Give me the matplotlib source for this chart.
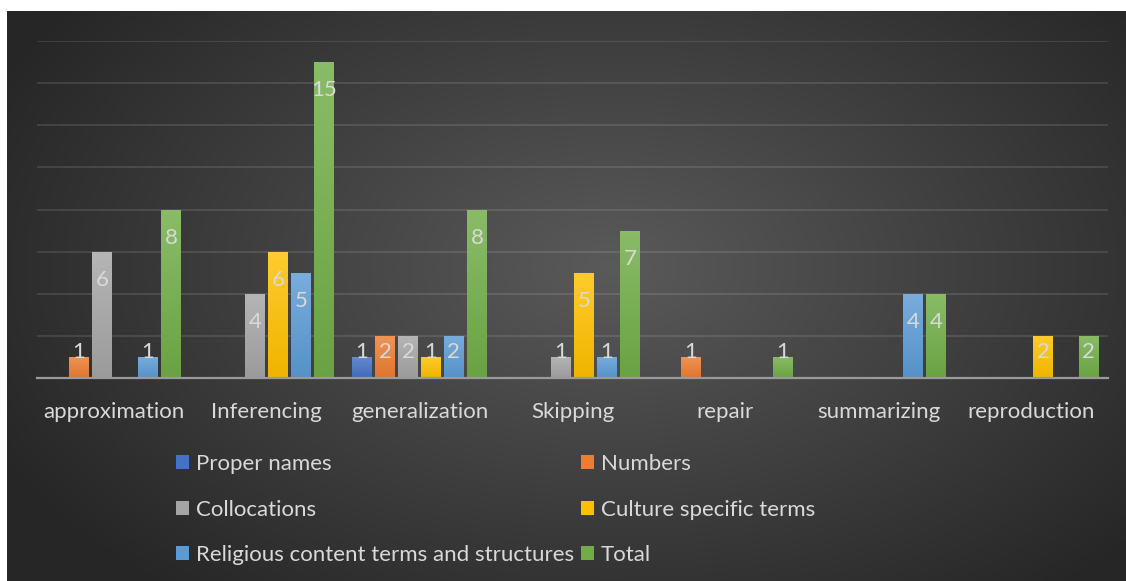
import numpy as np
import matplotlib.pyplot as plt
from matplotlib.colors import to_rgb

plt.rcParams['font.family'] = ['Lato', 'DejaVu Sans']

categories = ["approximation", "Inferencing", "generalization", "Skipping",
              "repair", "summarizing", "reproduction"]
series = ["Proper names", "Numbers", "Collocations", "Culture specific terms",
          "Religious content terms and structures", "Total"]
proper_names = [0, 0, 1, 0, 0, 0, 0]
numbers = [1, 0, 2, 0, 1, 0, 0]
collocations = [6, 4, 2, 1, 0, 0, 0]
culture_terms = [0, 6, 1, 5, 0, 0, 2]
religious_terms = [1, 5, 2, 1, 0, 4, 0]
total = [8, 15, 8, 7, 1, 4, 2]
colors = ["#4472C4", "#ED7D31", "#A5A5A5", "#FFC000", "#5B9BD5", "#70AD47"]

values = [proper_names, numbers, collocations, culture_terms, religious_terms, total]
txt = "#d9d9d9"

W, H = 1126, 581
fig = plt.figure(figsize=(W / 100, H / 100), dpi=100, facecolor="white")

# dark radial background
bg = fig.add_axes([7 / W, 0, 1 - 7 / W, 570 / H])
gx, gy = np.meshgrid(np.linspace(0, 1, 400), np.linspace(0, 1, 220))
r = np.sqrt(((gx - 0.54) / 0.62) ** 2 + ((gy - 0.45) / 0.75) ** 2)
r = np.clip(r, 0, 1)
c_in, c_out = np.array(to_rgb("#5a5a5a")), np.array(to_rgb("#262626"))
img = c_in * (1 - r[..., None]) + c_out * r[..., None]
bg.imshow(img, aspect="auto", extent=[0, 1, 0, 1])
bg.axis("off")

ax = fig.add_axes([37 / W, (H - 378) / H, 1071 / W, 337 / H])
ax.set_facecolor("none")

x = np.arange(len(categories))
pitch = 0.15
width = 0.127
handles = []
for i, (name, vals, col) in enumerate(zip(series, values, colors)):
    pos = x + (i - 2.5) * pitch
    bars = ax.bar(pos, vals, width, color=col, label=name, zorder=3, linewidth=0)
    handles.append(bars)
    base = np.array(to_rgb(col))
    top = base + (1 - base) * 0.18
    bot = base * 0.94
    grad = np.linspace(1, 0, 64)[:, None, None]
    gimg = np.repeat(top * grad + bot * (1 - grad), 2, axis=1)
    for b, v in zip(bars, vals):
        if v <= 0:
            continue
        im = ax.imshow(gimg, extent=[b.get_x(), b.get_x() + b.get_width(), 0, v],
                       aspect="auto", zorder=3)
        im.set_clip_path(b)
        ax.text(b.get_x() + b.get_width() / 2, max(v - 1.33, 1.23), str(v),
                ha="center", va="center", color=txt, fontsize=16, zorder=5)

ax.set_xlim(-0.5, len(categories) - 0.5)
ax.set_ylim(0, 16)
ax.set_yticks(np.arange(2, 17, 2))
ax.yaxis.grid(True, color="white", alpha=0.12, linewidth=1.3)
ax.set_axisbelow(True)
ax.tick_params(axis="y", length=0, labelleft=False)
ax.set_xticks(x, categories)
ax.tick_params(axis="x", length=0, pad=17, labelsize=16, labelcolor=txt)
for s in ["top", "right", "left"]:
    ax.spines[s].set_visible(False)
ax.spines["bottom"].set_color("#9a9a9a")
ax.spines["bottom"].set_linewidth(1.6)
ax.spines["bottom"].set_zorder(4)

# legend fills row by row
order = [0, 2, 4, 1, 3, 5]
leg = fig.legend([handles[k] for k in order], [series[k] for k in order],
                 ncol=2, loc="upper left", bbox_to_anchor=(176 / W, 1 - 454 / H),
                 frameon=False, fontsize=16, labelcolor=txt,
                 handlelength=0.6, handleheight=0.6, handletextpad=0.3,
                 columnspacing=0.3, labelspacing=1.15, borderpad=0, borderaxespad=0)

fig.savefig("out.png", dpi=100, facecolor=fig.get_facecolor())
